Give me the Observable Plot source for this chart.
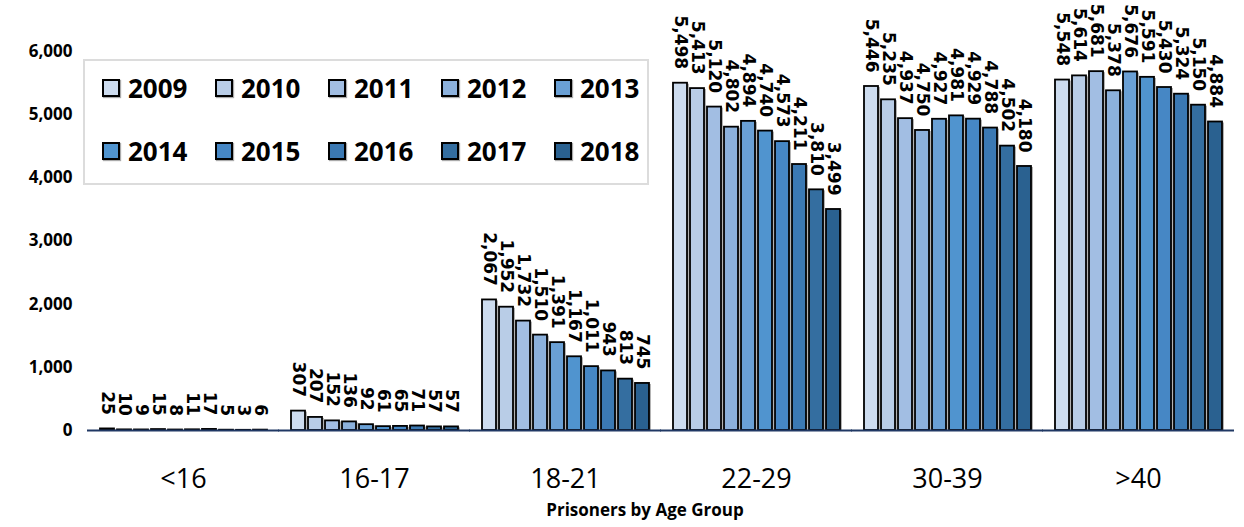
<!DOCTYPE html>
<html>
<head>
<meta charset="utf-8">
<script src="https://cdn.jsdelivr.net/npm/d3@7"></script>
<script src="https://cdn.jsdelivr.net/npm/@observablehq/plot@0.6"></script>
<style>
  html, body { margin: 0; padding: 0; background: #fff; }
  #wrap { position: relative; width: 1244px; height: 527px; overflow: hidden; font-family: "Open Sans", sans-serif; }
  #legend { position: absolute; left: 83px; top: 59px; width: 562px; height: 122px; border: 2px solid #dcdcdc; background: #fff; box-sizing: content-box; }
  .item { position: absolute; display: flex; align-items: center; font-weight: 700; font-size: 26px; color: #000; line-height: 1; }
  .sw { width: 14px; height: 14px; border: 2px solid #000; margin-right: 8px; box-shadow: 1px 1px 1px #aaa; }
  #title { position: absolute; left: 0; top: 498px; width: 1290px; text-align: center; font-weight: 700; font-size: 17px; color: #000; }
</style>
</head>
<body>
<div id="wrap">
  <div id="chart"></div>
  <div id="legend"></div>
  <div id="title">Prisoners by Age Group</div>
</div>
<script>
const groups = ["<16", "16-17", "18-21", "22-29", "30-39", ">40"];
const years = ["2009", "2010", "2011", "2012", "2013", "2014", "2015", "2016", "2017", "2018"];
const colors = ["#cddcef", "#b9cde7", "#a2bee3", "#8cb1dc", "#6aa0d5", "#5094cf", "#4687c5", "#3b79b3", "#346ea0", "#2a6190"];
const under16 = [25, 10, 9, 15, 8, 11, 17, 5, 3, 6];
const age16to17 = [307, 207, 152, 136, 92, 61, 65, 71, 57, 57];
const age18to21 = [2067, 1952, 1732, 1510, 1391, 1167, 1011, 943, 813, 745];
const age22to29 = [5498, 5413, 5120, 4802, 4894, 4740, 4573, 4211, 3810, 3499];
const age30to39 = [5446, 5235, 4937, 4750, 4927, 4981, 4929, 4788, 4502, 4180];
const over40 = [5548, 5614, 5681, 5378, 5676, 5591, 5430, 5324, 5150, 4884];
const yTicks = [0, 1000, 2000, 3000, 4000, 5000, 6000];

const series = [under16, age16to17, age18to21, age22to29, age30to39, over40];
const data = [];
groups.forEach((g, gi) => years.forEach((y, yi) => data.push({group: g, year: y, value: series[gi][yi]})));

const fmt = d3.format(",");

const chart = Plot.plot({
  width: 1244,
  height: 497,
  marginLeft: 78,
  marginRight: 0,
  marginTop: 51,
  marginBottom: 67,
  style: {background: "transparent", overflow: "visible"},
  fx: {domain: groups, paddingInner: 0.12, paddingOuter: 0.1, label: null},
  x: {domain: years, paddingInner: 0.18, paddingOuter: 0.02, axis: null},
  y: {domain: [0, 6000], axis: null},
  color: {domain: years, range: colors},
  marks: [
    Plot.barY(data, {fx: "group", x: "year", y: "value", fill: "#b3b3b3", dx: 2, dy: 1}),
    Plot.barY(data, {fx: "group", x: "year", y: "value", fill: "year", stroke: "#000", strokeWidth: 1.8}),
    Plot.ruleY([0], {stroke: "#203864", strokeWidth: 2, insetLeft: -12, insetRight: -12}),
    Plot.text(data, {fx: "group", x: "year", y: "value", text: d => fmt(d.value), rotate: 90, textAnchor: "end", dy: -14,
      fontSize: 17, fontWeight: "bold", fontFamily: "DejaVu Sans", fill: "#000"}),
    Plot.axisY({ticks: yTicks, tickFormat: fmt, tickSize: 0, tickPadding: 27, fontSize: 17, fontWeight: "bold", fontFamily: "Open Sans", label: null, fill: "#000"}),
    Plot.axisFx({anchor: "bottom", tickSize: 0, tickPadding: 38, fontSize: 27, fontFamily: "Open Sans", label: null, fill: "#000"})
  ]
});
document.getElementById("chart").appendChild(chart);

const legend = document.getElementById("legend");
years.forEach((y, i) => {
  const row = Math.floor(i / 5), col = i % 5;
  const el = document.createElement("div");
  el.className = "item";
  el.style.left = (17 + col * 113) + "px";
  el.style.top = (27 + row * 63 - 16) + "px";
  el.style.height = "32px";
  const sw = document.createElement("div");
  sw.className = "sw";
  sw.style.background = colors[i];
  const t = document.createElement("span");
  t.textContent = y;
  el.appendChild(sw);
  el.appendChild(t);
  legend.appendChild(el);
});
</script>
</body>
</html>
